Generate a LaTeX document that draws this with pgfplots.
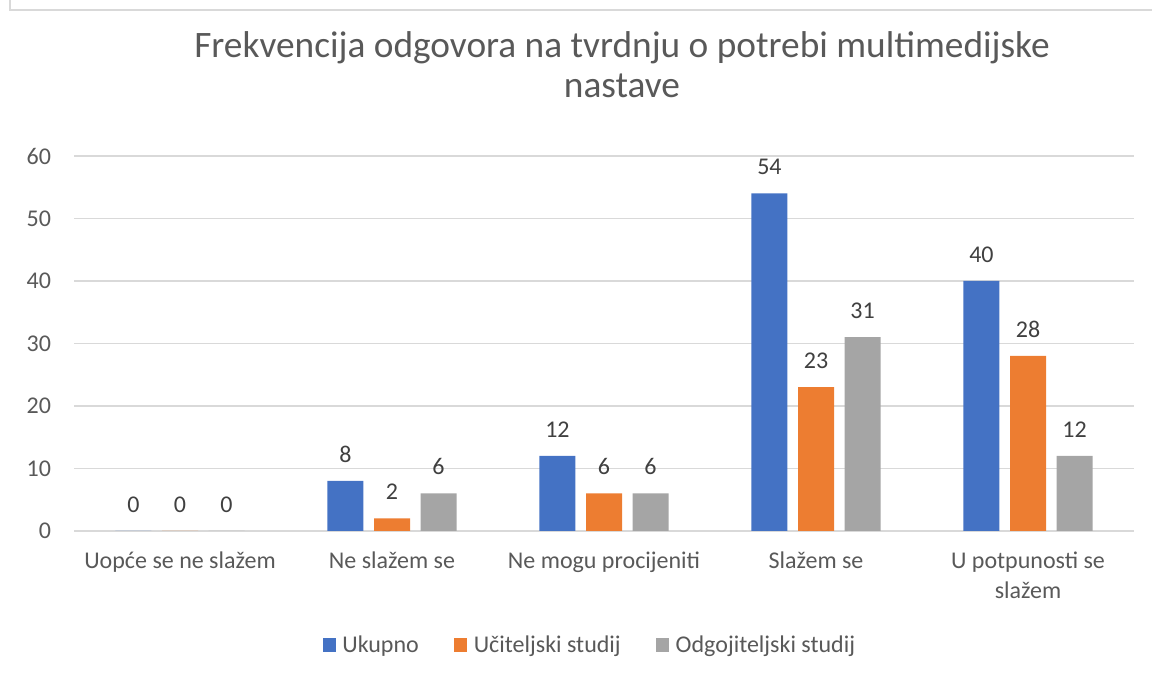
\documentclass[border=0pt]{standalone}
\usepackage{pgfplots}
\pgfplotsset{compat=1.18}
\usepackage{fontspec}
\setmainfont{Carlito}
\definecolor{cblue}{HTML}{4472C4}
\definecolor{corange}{HTML}{ED7D31}
\definecolor{cgray}{HTML}{A5A5A5}
\definecolor{ctext}{HTML}{595959}
\definecolor{clabel}{HTML}{404040}
\definecolor{cgrid}{HTML}{D9D9D9}
\begin{document}
\begin{tikzpicture}[x=0.75pt,y=0.75pt]
\path[use as bounding box] (0,0) rectangle (1152,677);
\draw[cgrid, line width=1.5pt] (10,677) -- (10,667) -- (1152,667);
\node[text=ctext, font=\fontsize{28}{30}\selectfont, align=center] at (622,612) {Frekvencija odgovora na tvrdnju o potrebi multimedijske\\[0pt]nastave};
\begin{axis}[
  at={(55.5pt,109.5pt)}, anchor=south west,
  scale only axis, width=795pt, height=281.25pt,
  xmin=-0.5, xmax=4.5, ymin=0, ymax=60,
  ytick={0,10,...,60},
  xtick={0,1,2,3,4},
  xticklabels={Uopće se ne slažem, Ne slažem se, Ne mogu procijeniti, Slažem se, U potpunosti se\\slažem},
  ymajorgrids, grid style={cgrid, line width=1pt},
  axis line style={draw=none},
  major tick length=0pt,
  tick label style={text=ctext, font=\fontsize{18}{22}\selectfont},
  /pgf/number format/assume math mode=true,
  yticklabel style={inner sep=0pt, xshift=-17pt},
  xticklabel style={align=center, inner sep=0pt, yshift=-15.75pt},
  ybar, bar width=27pt,
  nodes near coords,
  every node near coord/.append style={text=clabel, font=\fontsize{18}{22}\selectfont, yshift=10.5pt},
  legend style={at={(0.487,-0.304)}, anchor=center, draw=none, legend columns=-1,
    font=\fontsize{18}{22}\selectfont, text=ctext,
    /tikz/every odd column/.append style={column sep=0pt},
    /tikz/every even column/.append style={column sep=24.5pt}},
  legend image code/.code={\fill[#1] (0pt,-4.9pt) rectangle (9.75pt,4.9pt); \path (12.75pt,0pt);},
  clip=false,
]
\addplot[fill=cblue, draw=none, bar shift=-34.9pt] coordinates {(0,0) (1,8) (2,12) (3,54) (4,40)};
\addplot[fill=corange, draw=none, bar shift=0pt] coordinates {(0,0) (1,2) (2,6) (3,23) (4,28)};
\addplot[fill=cgray, draw=none, bar shift=34.9pt] coordinates {(0,0) (1,6) (2,6) (3,31) (4,12)};
\legend{Ukupno, Učiteljski studij, Odgojiteljski studij}
\end{axis}
\end{tikzpicture}
\end{document}
